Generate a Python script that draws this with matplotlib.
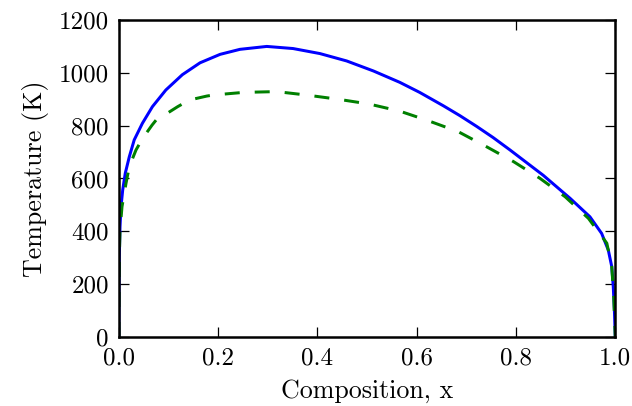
import numpy as np
import matplotlib
matplotlib.use("Agg")
import matplotlib.pyplot as plt

# Computer Modern look, classic-style ticks
plt.rcParams["font.family"] = "serif"
plt.rcParams["font.serif"] = ["cmr10"]
plt.rcParams["mathtext.fontset"] = "cm"
plt.rcParams["axes.formatter.use_mathtext"] = True
plt.rcParams["axes.unicode_minus"] = False
plt.rcParams["font.size"] = 10

# solid curve (blue)
x_solid = [0, 0.0004, 0.001, 0.0024, 0.0044, 0.0078, 0.013, 0.0211, 0.031,
           0.0475, 0.0677, 0.0947, 0.128, 0.1636, 0.204, 0.244, 0.298,
           0.351, 0.405, 0.459, 0.513, 0.566, 0.606, 0.654, 0.687, 0.721,
           0.754, 0.788, 0.855, 0.909, 0.949, 0.9726, 0.986, 0.993, 0.996,
           0.9985, 1.0]
T_solid = [0, 180, 304, 417, 493, 556, 620, 682, 746,
           809, 872, 935, 993, 1038, 1070, 1089, 1100,
           1092, 1073, 1045, 1007, 964, 926, 875, 838, 797,
           755, 708, 612, 525, 455, 392, 329, 266, 190,
           90, 0]

# dashed curve (green)
x_dashed = [0, 0.0004, 0.001, 0.0024, 0.0064, 0.0145, 0.0211, 0.0346, 0.048,
            0.0669, 0.075, 0.0884, 0.1186, 0.142, 0.177, 0.19, 0.251, 0.318,
            0.378, 0.442, 0.504, 0.566, 0.623, 0.684, 0.741, 0.795, 0.848,
            0.899, 0.946, 0.983, 0.993, 0.997, 1.0]
T_dashed = [0, 180, 304, 405, 493, 582, 645, 708, 752,
            802, 821, 836, 872, 897, 912, 916, 926, 929,
            916, 900, 882, 855, 819, 777, 720, 664, 601,
            531, 449, 355, 266, 150, 0]

x_ticks = [0.0, 0.2, 0.4, 0.6, 0.8, 1.0]
y_ticks = [0, 200, 400, 600, 800, 1000, 1200]

fig = plt.figure(figsize=(632 / 180, 406 / 180), dpi=180)
ax = fig.add_axes([0.188, 0.170, 0.7855, 0.7807])

ax.plot(x_solid, T_solid, color="blue", lw=1.2, solid_joinstyle="round")
ax.plot(x_dashed, T_dashed, color="green", lw=1.2, dashes=(5, 5))

ax.set_xlim(0, 1)
ax.set_ylim(0, 1200)
ax.set_xticks(x_ticks)
ax.set_yticks(y_ticks)
ax.set_xticklabels(["%.1f" % v for v in x_ticks])
ax.set_yticklabels([str(v) for v in y_ticks])
ax.tick_params(direction="in", top=True, right=True, length=4, width=0.5, pad=4)
for s in ax.spines.values():
    s.set_linewidth(1.0)

ax.set_xlabel("Composition, x", fontsize=10.4)
ax.set_ylabel("Temperature (K)", fontsize=10.4)

fig.savefig("out.png", dpi=180)
